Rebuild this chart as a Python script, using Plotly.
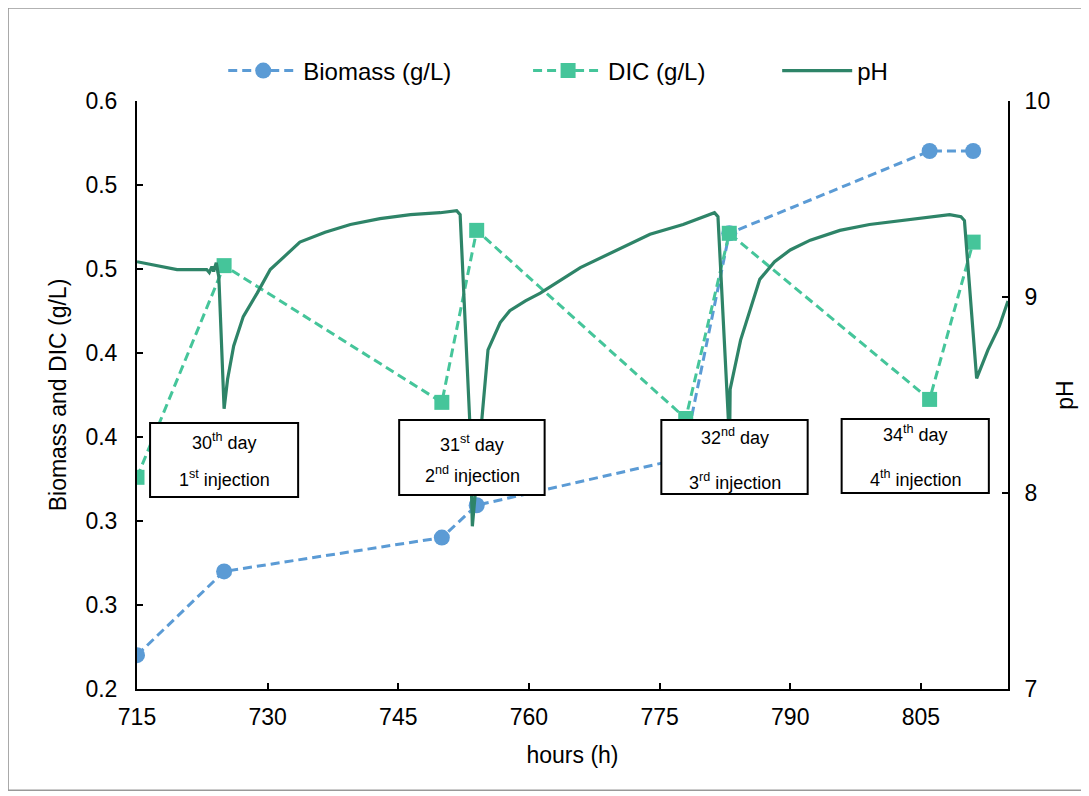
import plotly.graph_objects as go

# ---- data ----
sample_hours = [715, 725, 750, 754, 777.7, 783, 806, 811]
biomass = [0.223, 0.280, 0.303, 0.325, 0.357, 0.510, 0.566, 0.566]

dic_hours = [715, 725, 750, 754, 778, 783, 806, 811]
dic = [0.344, 0.488, 0.395, 0.512, 0.384, 0.510, 0.397, 0.504]

ph_hours = [715, 719.6, 723.0, 723.3, 723.6, 723.8, 724.1, 724.4, 725.0, 725.4,
            726.1, 727.2, 728.8, 730.3, 732.0, 733.7, 736.6, 739.5, 742.9, 746.4,
            749.8, 751.7, 752.1, 753.2, 753.5, 754.6, 755.3, 756.7, 757.8, 759.6,
            761.3, 765.9, 770.5, 773.9, 777.7, 781.3, 781.7, 782.9, 783.0, 783.1,
            784.3, 785.7, 786.5, 788.2, 790.0, 792.3, 795.7, 799.1, 802.6, 806.0,
            808.3, 809.6, 810.0, 811.4, 812.7, 814.0, 815.0]
ph = [9.18, 9.14, 9.14, 9.125, 9.155, 9.13, 9.175, 9.10, 8.43, 8.58,
      8.75, 8.90, 9.02, 9.14, 9.21, 9.28, 9.33, 9.37, 9.40, 9.42,
      9.43, 9.44, 9.42, 8.37, 7.83, 8.37, 8.73, 8.87, 8.93, 8.98,
      9.02, 9.15, 9.25, 9.32, 9.37, 9.43, 9.41, 8.37, 8.10, 8.53,
      8.78, 8.98, 9.09, 9.18, 9.24, 9.29, 9.34, 9.37, 9.39, 9.41,
      9.42, 9.41, 9.39, 8.585, 8.73, 8.85, 8.98]

x_ticks = [715, 730, 745, 760, 775, 790, 805]

# annotation boxes: (center hour, x0, x1, y0, y1, line1 y, line2 y, line1, line2)
boxes = [
    (725.0, 716.5, 733.5, 0.3306, 0.381, 0.3687, 0.3429, "30<sup>th</sup> day", "1<sup>st</sup> injection"),
    (753.5, 745.1, 761.8, 0.332, 0.383, 0.3673, 0.3456, "31<sup>st</sup> day", "2<sup>nd</sup> injection"),
    (783.6, 775.2, 792.0, 0.3327, 0.383, 0.3721, 0.3415, "32<sup>nd</sup> day", "3<sup>rd</sup> injection"),
    (804.4, 795.9, 812.8, 0.3333, 0.3837, 0.3735, 0.3429, "34<sup>th</sup> day", "4<sup>th</sup> injection"),
]

C_BIO = "#5B9BD5"
C_DIC = "#45C59A"
C_PH = "#2E8468"
FONT = "Liberation Sans, Arial, sans-serif"

fig = go.Figure()
fig.add_trace(go.Scatter(x=sample_hours, y=biomass, name="Biomass (g/L)", mode="lines+markers",
                         line=dict(color=C_BIO, width=3, dash="9px,5px"),
                         marker=dict(symbol="circle", size=16, color=C_BIO), legend="legend"))
fig.add_trace(go.Scatter(x=dic_hours, y=dic, name="DIC (g/L)", mode="lines+markers",
                         line=dict(color=C_DIC, width=3, dash="9px,5px"),
                         marker=dict(symbol="square", size=15, color=C_DIC), legend="legend2"))
fig.add_trace(go.Scatter(x=ph_hours, y=ph, name="pH", mode="lines", yaxis="y2",
                         line=dict(color=C_PH, width=3.2), legend="legend3"))

shapes = [dict(type="rect", xref="paper", yref="paper", x0=-0.148, x1=1.12, y0=-0.172, y1=1.158,
               line=dict(color="#999999", width=1.5), fillcolor="rgba(0,0,0,0)", layer="below")]
annotations = []
for cx, x0, x1, y0, y1, ly1, ly2, t1, t2 in boxes:
    shapes.append(dict(type="rect", xref="x", yref="y", x0=x0, x1=x1, y0=y0, y1=y1,
                       line=dict(color="black", width=2), fillcolor="white", layer="above"))
    annotations.append(dict(x=cx, y=ly1, xref="x", yref="y", text=t1, showarrow=False,
                            font=dict(size=18, color="black", family=FONT)))
    annotations.append(dict(x=cx, y=ly2, xref="x", yref="y", text=t2, showarrow=False,
                            font=dict(size=18, color="black", family=FONT)))

leg_common = dict(orientation="h", y=1.051, yanchor="middle", xanchor="left",
                  font=dict(size=24), bgcolor="rgba(0,0,0,0)", itemwidth=70)

fig.update_layout(
    width=1081, height=788,
    margin=dict(l=129, r=81, t=93, b=107),
    paper_bgcolor="white", plot_bgcolor="white",
    font=dict(family=FONT, size=23, color="black"),
    showlegend=True,
    legend=dict(x=0.099, **leg_common),
    legend2=dict(x=0.449, **leg_common),
    legend3=dict(x=0.735, **leg_common),
    xaxis=dict(range=[715, 815], tickvals=x_ticks, showline=True, linecolor="black",
               linewidth=2, ticks="inside", ticklen=6, tickwidth=2, tickcolor="black",
               showgrid=False, zeroline=False, ticklabelstandoff=6,
               title=dict(text="hours (h)", font=dict(size=23), standoff=18)),
    yaxis=dict(range=[0.2, 0.6], tick0=0.2, dtick=0.4 / 7, tickformat=".1f",
               showline=True, linecolor="black", linewidth=2, ticks="inside", ticklen=6,
               tickwidth=2, tickcolor="black", showgrid=False, zeroline=False,
               ticklabelstandoff=13,
               title=dict(text="Biomass and DIC (g/L)", font=dict(size=23), standoff=12)),
    yaxis2=dict(range=[7, 10], dtick=1, overlaying="y", side="right", showline=True,
                linecolor="black", linewidth=2, ticks="inside", ticklen=6, tickwidth=2,
                tickcolor="black", showgrid=False, zeroline=False, ticklabelstandoff=10,
                title=dict(text="pH", font=dict(size=23), standoff=8)),
    shapes=shapes,
    annotations=annotations,
)

fig.write_html("out.html")
